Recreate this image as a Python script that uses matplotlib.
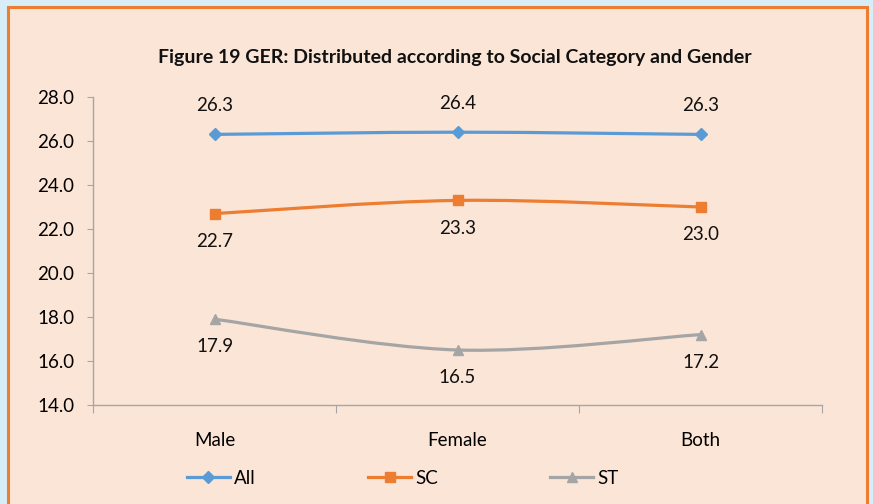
import numpy as np
import matplotlib.pyplot as plt
from matplotlib.path import Path
from matplotlib.patches import PathPatch, Rectangle
from matplotlib.lines import Line2D

plt.rcParams['font.family'] = ['Lato', 'DejaVu Sans']

categories = ["Male", "Female", "Both"]
all_vals = [26.3, 26.4, 26.3]
sc_vals = [22.7, 23.3, 23.0]
st_vals = [17.9, 16.5, 17.2]
series_names = ["All", "SC", "ST"]
colors = ["#5B9BD5", "#ED7D31", "#A5A5A5"]
markers = ["D", "s", "^"]


def smooth_path(xs, ys):
    # Excel-like smoothed line: Catmull-Rom segments as cubic beziers
    pts = np.column_stack([xs, ys]).astype(float)
    ext = np.vstack([pts[0], pts, pts[-1]])
    verts = [tuple(pts[0])]
    codes = [Path.MOVETO]
    for i in range(len(pts) - 1):
        p0, p1, p2, p3 = ext[i], ext[i + 1], ext[i + 2], ext[i + 3]
        c1 = p1 + (p2 - p0) / 6.0
        c2 = p2 - (p3 - p1) / 6.0
        verts += [tuple(c1), tuple(c2), tuple(p2)]
        codes += [Path.CURVE4] * 3
    return Path(verts, codes)


fig = plt.figure(figsize=(8.73, 5.04), dpi=100)
fig.patch.set_facecolor("#D7EEF9")
fig.patches.append(Rectangle((8 / 873, -0.05), 859 / 873, 1.05 - 7 / 504,
                             transform=fig.transFigure, facecolor="#FBE5D6",
                             edgecolor="#ED7D31", linewidth=2.2, zorder=-10))

ax = fig.add_axes([93 / 873, 1 - 405 / 504, (822 - 93) / 873, (405 - 97) / 504])
ax.set_facecolor("none")
ax.set_zorder(1)

x = np.arange(len(categories))
data = [all_vals, sc_vals, st_vals]
offsets = [21, -20, -20]
for vals, name, c, m, off in zip(data, series_names, colors, markers, offsets):
    ax.add_patch(PathPatch(smooth_path(x, vals), facecolor="none",
                           edgecolor=c, linewidth=2.3, zorder=2))
    ms = 6 if m == "D" else 7
    ax.plot(x, vals, linestyle="none", marker=m, color=c, markersize=ms, zorder=3)
    for xi, v in zip(x, vals):
        ax.annotate(f"{v:.1f}", (xi, v), xytext=(0, off), textcoords="offset points",
                    ha="center", va="center", fontsize=13.5, color="#111111")

ax.set_xlim(-0.5, 2.5)
ax.set_ylim(14, 28)
ax.set_yticks(np.arange(14, 28.1, 2))
ax.set_yticklabels([f"{t:.1f}" for t in np.arange(14, 28.1, 2)])
ax.set_xticks([-0.5, 0.5, 1.5, 2.5])
ax.set_xticklabels([])
ax.set_xticks(x, minor=True)
ax.set_xticklabels(categories, minor=True)
ax.tick_params(axis="x", which="major", length=6, color="#A6A6A6", direction="out")
ax.tick_params(axis="x", which="minor", length=0, pad=19.5, labelsize=13.5)
ax.tick_params(axis="y", length=4.5, color="#A6A6A6", labelsize=13.5, pad=9)
for s in ["top", "right"]:
    ax.spines[s].set_visible(False)
for s in ["left", "bottom"]:
    ax.spines[s].set_color("#A6A6A6")
    ax.spines[s].set_linewidth(1.0)

fig.text(455 / 873, 1 - 58 / 504,
         "Figure 19 GER: Distributed according to Social Category and Gender",
         ha="center", va="center", fontsize=14, fontweight="bold", color="#111111")

handles = [Line2D([], [], color=c, marker=m, linewidth=2.3,
                  markersize=6 if m == "D" else 7)
           for c, m in zip(colors, markers)]
fig.legend(handles, series_names, loc="center left", bbox_to_anchor=(170 / 873, 1 - 478 / 504),
           ncol=3, frameon=False, fontsize=13.5, columnspacing=6.0,
           handlelength=2.3, handletextpad=0.2)

fig.savefig("out.png", dpi=100, facecolor=fig.get_facecolor())
